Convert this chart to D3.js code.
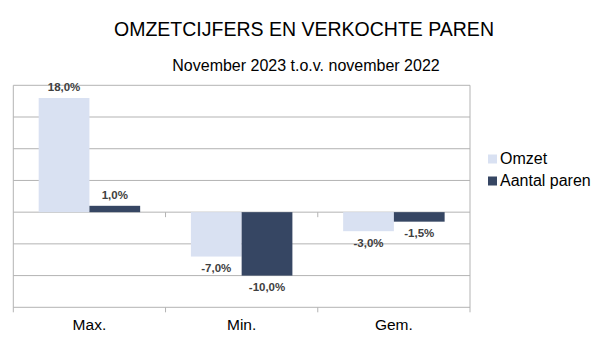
<!DOCTYPE html>
<html><head><meta charset="utf-8">
<script src="https://cdn.jsdelivr.net/npm/d3@7"></script>
<style>body{margin:0;background:#fff}svg{display:block}text{font-family:"Liberation Sans",Arial,sans-serif}</style>
</head><body>
<svg id="c" width="605" height="340"></svg>
<script>
const categories = ["Max.", "Min.", "Gem."];
const seriesNames = ["Omzet", "Aantal paren"];
const omzet = [18.0, -7.0, -3.0];
const aantalParen = [1.0, -10.0, -1.5];
const yTicks = [-15, -10, -5, 0, 5, 10, 15, 20];
const colors = ["#D9E1F2", "#364663"];

const svg = d3.select("#c");
const L = 13.3, R = 470, T = 85.3, B = 307.3;
const x = d3.scaleBand().domain(categories).range([L, R]).paddingInner(0).paddingOuter(0);
const bw = x.bandwidth();
const xs = d3.scaleBand().domain(seriesNames).range([bw/6, bw*5/6]).padding(0);
const y = d3.scaleLinear().domain([-15, 20]).range([B, T]);
const grid = "#B3B3B3";

// gridlines
svg.append("g").selectAll("line").data(yTicks).join("line")
  .attr("x1", L).attr("x2", R).attr("y1", d => y(d)).attr("y2", d => y(d))
  .attr("stroke", grid).attr("stroke-width", 1);
// left and right borders
svg.append("line").attr("x1", L).attr("x2", L).attr("y1", T).attr("y2", B + 5).attr("stroke", grid);
svg.append("line").attr("x1", R).attr("x2", R).attr("y1", T).attr("y2", B + 5).attr("stroke", grid);
// bottom ticks
const bounds = [1, 2];
svg.append("g").selectAll("line").data(bounds).join("line")
  .attr("x1", i => L + i*bw).attr("x2", i => L + i*bw).attr("y1", B).attr("y2", B + 5).attr("stroke", grid);
// zero line ticks
svg.append("g").selectAll("line").data(bounds).join("line")
  .attr("x1", i => L + i*bw).attr("x2", i => L + i*bw).attr("y1", y(0)).attr("y2", y(0) + 5).attr("stroke", grid);

const data = [omzet, aantalParen];
const fmt = v => v.toFixed(1).replace(".", ",") + "%";
data.forEach((vals, si) => {
  const g = svg.append("g");
  g.selectAll("rect").data(vals).join("rect")
    .attr("x", (d, i) => x(categories[i]) + xs(seriesNames[si]))
    .attr("width", xs.bandwidth())
    .attr("y", d => y(Math.max(0, d)))
    .attr("height", d => Math.abs(y(d) - y(0)))
    .attr("fill", colors[si]);
  g.selectAll("text").data(vals).join("text")
    .attr("x", (d, i) => x(categories[i]) + xs(seriesNames[si]) + xs.bandwidth()/2)
    .attr("y", d => d >= 0 ? y(d) - 6.5 : y(d) + 15.5)
    .attr("text-anchor", "middle")
    .attr("font-size", 11.5).attr("font-weight", "bold").attr("fill", "#404040")
    .text(fmt);
});

// category labels
svg.append("g").selectAll("text").data(categories).join("text")
  .attr("x", d => x(d) + bw/2).attr("y", 330)
  .attr("text-anchor", "middle").attr("font-size", 15.5).attr("fill", "#000").text(d => d);

// titles
svg.append("text").attr("x", 304).attr("y", 35.5).attr("text-anchor", "middle")
  .attr("font-size", 19.5).attr("fill", "#000").text("OMZETCIJFERS EN VERKOCHTE PAREN");
svg.append("text").attr("x", 306).attr("y", 71).attr("text-anchor", "middle")
  .attr("font-size", 16).attr("fill", "#000").text("November 2023 t.o.v. november 2022");

// legend
const lg = svg.append("g").selectAll("g").data(seriesNames).join("g")
  .attr("transform", (d, i) => `translate(488,${154.5 + i*22})`);
lg.append("rect").attr("width", 9).attr("height", 9).attr("fill", (d, i) => colors[i]);
lg.append("text").attr("x", 12).attr("y", 9.5).attr("font-size", 16).attr("fill", "#000").text(d => d);
</script>
</body></html>
